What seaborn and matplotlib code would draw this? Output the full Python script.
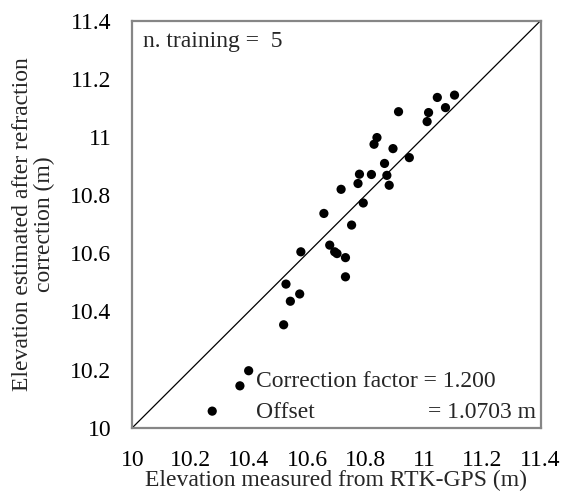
import matplotlib
matplotlib.use("Agg")
import matplotlib.pyplot as plt
import seaborn as sns
import pandas as pd

# Elevation pairs (m): RTK-GPS reference vs. refraction-corrected estimate
measured = [10.274, 10.369, 10.399, 10.519, 10.542, 10.574, 10.527, 10.578,
            10.677, 10.694, 10.702, 10.731, 10.731, 10.657, 10.752, 10.716,
            10.792, 10.774, 10.779, 10.820, 10.873, 10.881, 10.865, 10.894,
            10.950, 10.829, 10.839, 10.913, 11.011, 11.016, 11.046, 11.074,
            11.105]
estimated = [10.057, 10.144, 10.196, 10.354, 10.435, 10.460, 10.494, 10.605,
             10.628, 10.605, 10.599, 10.585, 10.519, 10.737, 10.697, 10.820,
             10.773, 10.840, 10.872, 10.871, 10.868, 10.834, 10.909, 10.960,
             10.929, 10.975, 10.998, 11.087, 11.053, 11.084, 11.136, 11.101,
             11.144]
ticks = [10.0, 10.2, 10.4, 10.6, 10.8, 11.0, 11.2, 11.4]
tick_labels = ["10", "10.2", "10.4", "10.6", "10.8", "11", "11.2", "11.4"]
n_training = 5
correction_factor = 1.200
offset = 1.0703

df = pd.DataFrame({"measured": measured, "estimated": estimated})

sns.set_theme(style="white")
plt.rcParams["font.family"] = ["Liberation Serif", "DejaVu Serif"]

FS = 17

fig = plt.figure(figsize=(5.65, 4.94), dpi=100)
ax = fig.add_axes([0.2342, 0.1342, 0.7225, 0.8239])

lo, hi = ticks[0], ticks[-1]
ax.plot([lo, hi], [lo, hi], color="black", lw=0.9, zorder=1)
sns.scatterplot(data=df, x="measured", y="estimated", ax=ax, color="black",
                s=44, edgecolor="none", zorder=3)

ax.set_xlim(lo, hi)
ax.set_ylim(lo, hi)
ax.set_xticks(ticks)
ax.set_yticks(ticks)
ax.set_xticklabels(tick_labels)
ax.set_yticklabels(tick_labels)

spine_col = "#868686"
for s in ax.spines.values():
    s.set_color(spine_col)
    s.set_linewidth(1.6)
ax.tick_params(axis="both", direction="out", length=5, width=1.0,
               color=spine_col, labelcolor="black", labelsize=FS)
ax.tick_params(axis="x", pad=11)
ax.tick_params(axis="y", pad=10)

ax.set_xlabel("Elevation measured from RTK-GPS (m)", fontsize=FS, labelpad=-1)
ax.set_ylabel("Elevation estimated after refraction\ncorrection (m)",
              fontsize=FS, linespacing=1.05)
ax.yaxis.set_label_coords(-0.19, 0.5)

ax.text(0.025, 0.95, f"n. training =  {n_training}", transform=ax.transAxes,
        fontsize=FS, ha="left", va="center")
ax.text(10.424, 10.158, f"Correction factor = {correction_factor:.3f}",
        fontsize=FS, ha="left", va="center")
ax.text(10.424, 10.052, "Offset", fontsize=FS, ha="left", va="center")
ax.text(11.383, 10.052, f"= {offset:.4f} m", fontsize=FS, ha="right", va="center")

fig.savefig("out.png", dpi=100)
